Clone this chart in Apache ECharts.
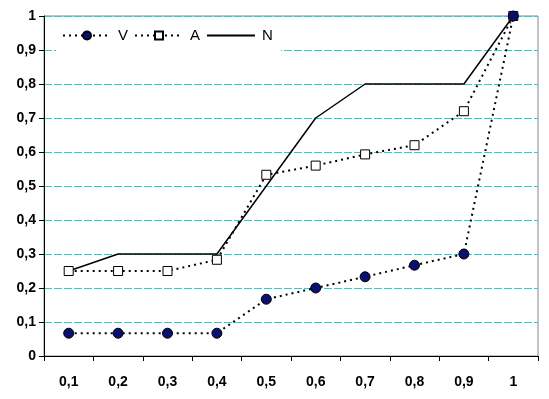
<!DOCTYPE html>
<html>
<head>
<meta charset="utf-8">
<script src="https://cdn.jsdelivr.net/npm/echarts@6/dist/echarts.min.js"></script>
<style>
  html, body { margin: 0; padding: 0; background: #fff; }
  #chart { width: 549px; height: 399px; }
</style>
</head>
<body>
<div id="chart"></div>
<script>
const categories = ['0,1', '0,2', '0,3', '0,4', '0,5', '0,6', '0,7', '0,8', '0,9', '1'];
const vValues = [0.067, 0.067, 0.067, 0.067, 0.167, 0.2, 0.233, 0.267, 0.3, 1.0];
const aValues = [0.25, 0.25, 0.25, 0.283, 0.533, 0.56, 0.593, 0.62, 0.72, 1.0];
const nValues = [0.25, 0.3, 0.3, 0.3, 0.5, 0.7, 0.8, 0.8, 0.8, 1.0];

const font = 'Liberation Sans, Arial, sans-serif';

const chart = echarts.init(document.getElementById('chart'));
chart.setOption({
  animation: false,
  grid: {
    left: 44, right: 11, top: 16, bottom: 43,
    show: true, borderColor: '#888', borderWidth: 1
  },
  legend: {
    left: 56, top: 24,
    backgroundColor: '#fff',
    padding: [4, 8, 8, 6],
    itemWidth: 48, itemHeight: 10, itemGap: 6,
    textStyle: { fontFamily: font, fontSize: 15, color: '#000', padding: [0, 0, 0, 2] },
    data: ['V', 'A', { name: 'N', itemStyle: { opacity: 0 } }]
  },
  xAxis: {
    type: 'category',
    data: categories,
    boundaryGap: true,
    axisLine: { lineStyle: { color: '#000', width: 1 } },
    axisTick: { show: true, length: 5, lineStyle: { color: '#000' } },
    axisLabel: { fontFamily: font, fontSize: 14, fontWeight: 'bold', color: '#000', margin: 19 }
  },
  yAxis: {
    type: 'value',
    min: 0, max: 1, interval: 0.1,
    axisLine: { show: true, lineStyle: { color: '#000', width: 1 } },
    axisTick: { show: true, length: 5, lineStyle: { color: '#000' } },
    axisLabel: {
      fontFamily: font, fontSize: 14, fontWeight: 'bold', color: '#000', margin: 8,
      formatter: v => String(Math.round(v * 10) / 10).replace('.', ',')
    },
    splitLine: { lineStyle: { color: '#2ccfcf', type: [8, 2], width: 1 } }
  },
  series: [
    {
      name: 'N', type: 'line', data: nValues,
      symbol: 'none',
      lineStyle: { color: '#000', width: 1.5, type: 'solid' },
      itemStyle: { color: '#000' }, z: 2
    },
    {
      name: 'A', type: 'line', data: aValues,
      symbol: 'rect', symbolSize: 9,
      lineStyle: { color: '#000', width: 2, type: [2, 4] },
      itemStyle: { color: '#fff', borderColor: '#000', borderWidth: 1 }, z: 3
    },
    {
      name: 'V', type: 'line', data: vValues,
      symbol: 'circle', symbolSize: 10,
      lineStyle: { color: '#000', width: 2, type: [2, 4] },
      itemStyle: { color: '#0a1070', borderColor: '#000', borderWidth: 1 }, z: 4
    }
  ]
});
</script>
</body>
</html>
